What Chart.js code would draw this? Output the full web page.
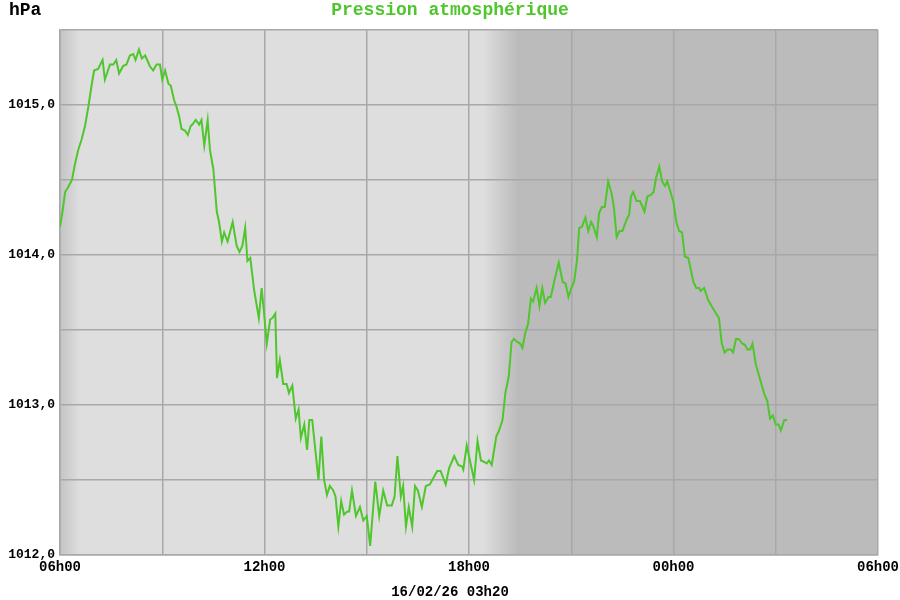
<!DOCTYPE html>
<html>
<head>
<meta charset="utf-8">
<script src="https://cdn.jsdelivr.net/npm/chart.js@4/dist/chart.umd.min.js"></script>
<style>
    html, body { margin: 0; padding: 0; background: #fff; }
    #wrap { width: 900px; height: 600px; }
</style>
</head>
<body>
<div id="wrap"><canvas id="pression"></canvas></div>
<script>
// minutes depuis 06h00 (debut du graphique)
const minutes = [
    0, 4, 9, 14, 21, 26, 32, 38, 44, 50, 56, 60, 67, 75, 79, 88, 94, 99, 104, 111,
    117, 123, 129, 133, 139, 144, 150, 158, 164, 170, 176, 180, 185, 191, 195, 201, 205, 210, 214, 220,
    225, 230, 233, 239, 245, 249, 254, 260, 264, 270, 276, 280, 285, 289, 295, 304, 311, 316, 321, 326,
    330, 335, 342, 350, 355, 359, 364, 370, 374, 379, 382, 387, 393, 399, 403, 409, 415, 420, 424, 430,
    435, 439, 444, 455, 460, 465, 470, 475, 481, 485, 490, 495, 500, 506, 509, 514, 521, 528, 534, 540,
    546, 555, 562, 569, 576, 584, 589, 594, 600, 604, 609, 614, 620, 625, 630, 637, 644, 651, 664, 670,
    679, 685, 694, 701, 708, 710, 716, 729, 735, 741, 747, 751, 755, 760, 768, 773, 779, 784, 790, 795,
    799, 805, 810, 814, 819, 824, 829, 833, 839, 844, 849, 854, 860, 864, 871, 878, 885, 890, 895, 900,
    905, 910, 914, 919, 925, 930, 935, 939, 945, 949, 954, 959, 965, 971, 975, 980, 985, 990, 998, 1002,
    1005, 1009, 1015, 1021, 1029, 1034, 1040, 1045, 1049, 1055, 1060, 1065, 1069, 1074, 1080, 1085, 1090, 1095, 1100, 1106,
    1110, 1115, 1120, 1125, 1128, 1134, 1141, 1150, 1160, 1165, 1170, 1175, 1181, 1185, 1190, 1195, 1201, 1206, 1210, 1215,
    1219, 1225, 1231, 1237, 1241, 1245, 1250, 1255, 1260, 1265, 1269, 1275, 1280
]

const pression = [
    1014.19, 1014.28, 1014.42, 1014.45, 1014.50, 1014.60, 1014.70, 1014.77, 1014.86, 1014.99,
    1015.14, 1015.23, 1015.24, 1015.30, 1015.17, 1015.27, 1015.27, 1015.30, 1015.21, 1015.26,
    1015.27, 1015.33, 1015.34, 1015.30, 1015.37, 1015.31, 1015.33, 1015.26, 1015.23, 1015.27,
    1015.27, 1015.17, 1015.23, 1015.14, 1015.13, 1015.03, 1014.99, 1014.92, 1014.84, 1014.83,
    1014.80, 1014.86, 1014.87, 1014.90, 1014.87, 1014.90, 1014.73, 1014.90, 1014.70, 1014.57,
    1014.29, 1014.22, 1014.09, 1014.15, 1014.09, 1014.22, 1014.06, 1014.02, 1014.06, 1014.18,
    1013.96, 1013.98, 1013.76, 1013.58, 1013.78, 1013.62, 1013.41, 1013.57, 1013.58, 1013.61,
    1013.18, 1013.30, 1013.14, 1013.14, 1013.08, 1013.13, 1012.91, 1012.97, 1012.78, 1012.87,
    1012.70, 1012.90, 1012.90, 1012.50, 1012.79, 1012.50, 1012.40, 1012.46, 1012.43, 1012.39,
    1012.19, 1012.36, 1012.27, 1012.29, 1012.29, 1012.43, 1012.26, 1012.32, 1012.23, 1012.26,
    1012.06, 1012.49, 1012.26, 1012.43, 1012.33, 1012.33, 1012.39, 1012.66, 1012.39, 1012.46,
    1012.19, 1012.32, 1012.19, 1012.46, 1012.43, 1012.32, 1012.46, 1012.47, 1012.56, 1012.56,
    1012.47, 1012.58, 1012.66, 1012.60, 1012.59, 1012.57, 1012.73, 1012.50, 1012.76, 1012.63,
    1012.62, 1012.61, 1012.63, 1012.60, 1012.79, 1012.83, 1012.90, 1013.08, 1013.19, 1013.42,
    1013.44, 1013.42, 1013.41, 1013.38, 1013.48, 1013.54, 1013.71, 1013.69, 1013.78, 1013.66,
    1013.78, 1013.68, 1013.72, 1013.72, 1013.84, 1013.95, 1013.82, 1013.81, 1013.72, 1013.78,
    1013.82, 1013.96, 1014.18, 1014.19, 1014.25, 1014.16, 1014.22, 1014.19, 1014.12, 1014.28,
    1014.32, 1014.32, 1014.49, 1014.41, 1014.32, 1014.12, 1014.16, 1014.16, 1014.24, 1014.27,
    1014.39, 1014.42, 1014.36, 1014.36, 1014.29, 1014.39, 1014.40, 1014.42, 1014.51, 1014.59,
    1014.49, 1014.46, 1014.49, 1014.43, 1014.35, 1014.22, 1014.16, 1014.15, 1013.99, 1013.98,
    1013.91, 1013.82, 1013.78, 1013.78, 1013.76, 1013.78, 1013.70, 1013.64, 1013.58, 1013.41,
    1013.35, 1013.37, 1013.37, 1013.35, 1013.44, 1013.44, 1013.41, 1013.40, 1013.37, 1013.37,
    1013.41, 1013.27, 1013.19, 1013.11, 1013.06, 1013.03, 1012.91, 1012.93, 1012.87, 1012.87,
    1012.83, 1012.90, 1012.90
]

// etiquettes de l'axe horizontal (toutes les 6 h)
const heures = { 0: "06h00", 360: "12h00", 720: "18h00", 1080: "00h00", 1440: "06h00" }
const titre = "Pression atmosphérique"
const unite = "hPa"
const horodatage = "16/02/26 03h20"

// jour / nuit (en minutes depuis 06h00)
const aubeFin = 35
const crepuscule = [745, 806]

const VERT = "#4fc62c"
const FONT = "'Liberation Mono', 'Courier New', monospace"

const fond = {
    id: "fond",
    beforeDraw(chart) {
        const { ctx, chartArea: a, scales } = chart
        const x = scales.x
        ctx.save()
        ctx.fillStyle = "#dedede"
        ctx.fillRect(a.left, a.top, a.width, a.height)

        // lever du jour a gauche
        const g1 = ctx.createLinearGradient(x.getPixelForValue(0), 0, x.getPixelForValue(aubeFin), 0)
        g1.addColorStop(0, "#c4c4c4")
        g1.addColorStop(1, "#dedede")
        ctx.fillStyle = g1
        ctx.fillRect(a.left, a.top, x.getPixelForValue(aubeFin) - a.left, a.height)

        // nuit
        const x0 = x.getPixelForValue(crepuscule[0])
        const x1 = x.getPixelForValue(crepuscule[1])
        const g2 = ctx.createLinearGradient(x0, 0, x1, 0)
        g2.addColorStop(0, "#dedede")
        g2.addColorStop(1, "#bbbbbb")
        ctx.fillStyle = g2
        ctx.fillRect(x0, a.top, a.right - x0, a.height)
        ctx.restore()
    },
    afterDraw(chart) {
        const { ctx, width } = chart
        ctx.save()
        ctx.textBaseline = "middle"
        ctx.font = "bold 18px " + FONT
        ctx.fillStyle = VERT
        ctx.textAlign = "center"
        ctx.fillText(titre, width / 2, 10)
        ctx.fillStyle = "#000"
        ctx.textAlign = "left"
        ctx.fillText(unite, 9, 10)
        ctx.font = "bold 14px " + FONT
        ctx.textAlign = "center"
        ctx.fillText(horodatage, width / 2, 592)
        ctx.restore()
    },
}

new Chart(document.getElementById("pression"), {
    type: "line",
    data: {
        datasets: [{
            data: minutes.map((m, i) => ({ x: m, y: pression[i] })),
            borderColor: VERT,
            borderWidth: 2,
            pointRadius: 0,
            tension: 0,
        }],
    },
    options: {
        responsive: true,
        maintainAspectRatio: false,
        animation: false,
        layout: { padding: { top: 30, right: 22, left: 0, bottom: 0 } },
        plugins: {
            legend: false,
            title: false,
            tooltip: { enabled: false },
        },
        scales: {
            x: {
                type: "linear",
                min: 0,
                max: 1440,
                afterFit: (s) => {
                    s.height = 45
                    s.paddingLeft = 0
                    s.paddingRight = 0
                },
                ticks: {
                    stepSize: 180,
                    autoSkip: false,
                    maxRotation: 0,
                    padding: 4,
                    color: "#000",
                    font: { family: FONT, size: 14, weight: "bold" },
                    callback: (v) => heures[v] || "",
                },
                grid: { color: "#a8a8a8", lineWidth: 1.5, drawTicks: false },
                border: { color: "#a8a8a8", width: 1.5 },
            },
            y: {
                min: 1012,
                max: 1015.5,
                afterFit: (s) => { s.width = 60 },
                ticks: {
                    stepSize: 0.5,
                    padding: 5,
                    color: "#000",
                    font: { family: FONT, size: 13, weight: "bold" },
                    callback: (v) => (v % 1 === 0 ? v.toFixed(1).replace(".", ",") : ""),
                },
                grid: { color: "#a8a8a8", lineWidth: 1.5, drawTicks: false },
                border: { color: "#a8a8a8", width: 1.5 },
            },
        },
    },
    plugins: [fond],
})
</script>
</body>
</html>
